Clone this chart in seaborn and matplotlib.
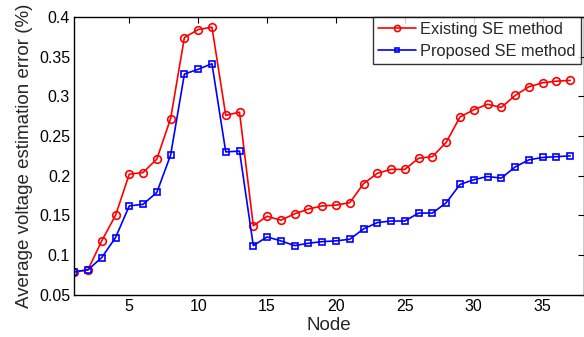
import numpy as np
import pandas as pd
import seaborn as sns
import matplotlib
matplotlib.use("Agg")
import matplotlib.pyplot as plt

# --- data ---
nodes = list(range(1, 38))
existing = [0.079, 0.0815, 0.118, 0.150, 0.202, 0.204, 0.221, 0.272, 0.374, 0.384,
            0.387, 0.276, 0.280, 0.137, 0.149, 0.144, 0.152, 0.158, 0.162, 0.163,
            0.166, 0.190, 0.203, 0.208, 0.208, 0.222, 0.224, 0.242, 0.274, 0.283,
            0.290, 0.286, 0.301, 0.312, 0.317, 0.319, 0.320]
proposed = [0.079, 0.0815, 0.097, 0.122, 0.162, 0.164, 0.179, 0.226, 0.328, 0.334,
            0.341, 0.230, 0.231, 0.112, 0.123, 0.118, 0.112, 0.115, 0.117, 0.118,
            0.120, 0.133, 0.141, 0.143, 0.143, 0.153, 0.153, 0.166, 0.189, 0.195,
            0.199, 0.197, 0.211, 0.220, 0.223, 0.224, 0.225]
labels = ["Existing SE method", "Proposed SE method"]
colors = ["#ff0000", "#0000ff"]
markers = ["o", "s"]
msizes = [5.5, 4]

yticks = [0.05, 0.1, 0.15, 0.2, 0.25, 0.3, 0.35, 0.4]
ytick_labels = ["0.05", "0.1", "0.15", "0.2", "0.25", "0.3", "0.35", "0.4"]
xticks = [5, 10, 15, 20, 25, 30, 35]

df = pd.DataFrame({
    "node": nodes * 2,
    "err": existing + proposed,
    "method": [labels[0]] * len(nodes) + [labels[1]] * len(nodes),
})

sns.set_style("white")
plt.rcParams["font.family"] = ["Liberation Sans", "DejaVu Sans"]

fig = plt.figure(figsize=(5.84, 3.37), dpi=100)
ax = fig.add_axes([0.127, 0.125, 0.873, 0.825])

for lab, c, m, ms in zip(labels, colors, markers, msizes):
    sns.lineplot(
        data=df[df["method"] == lab], x="node", y="err",
        color=c, marker=m, markersize=ms, markerfacecolor="none",
        markeredgecolor=c, markeredgewidth=1.2, linewidth=1.2,
        label=lab, ax=ax, legend=False,
    )

ax.set_xlim(1, 38)
ax.set_ylim(0.05, 0.4)
ax.set_xticks(xticks)
ax.set_yticks(yticks)
ax.set_yticklabels(ytick_labels)
ax.tick_params(direction="in", top=True, right=True, length=4, width=0.8,
               labelsize=11.5, colors="black", pad=3)
for s in ax.spines.values():
    s.set_visible(True)
    s.set_color("black")
    s.set_linewidth(1.0)

ax.set_xlabel("Node", fontsize=13.5, labelpad=2)
ax.set_ylabel("Average voltage estimation error (%)", fontsize=13.5, labelpad=4)

leg = ax.legend(loc="upper left", bbox_to_anchor=(0.586, 1.0), fontsize=11.8,
                frameon=True, fancybox=False, edgecolor="black",
                handlelength=2.3, handletextpad=0.3, borderpad=0.3,
                labelspacing=0.45, borderaxespad=0, markerscale=0.8)
leg.get_frame().set_linewidth(1.0)

fig.savefig("out.png", dpi=100)
